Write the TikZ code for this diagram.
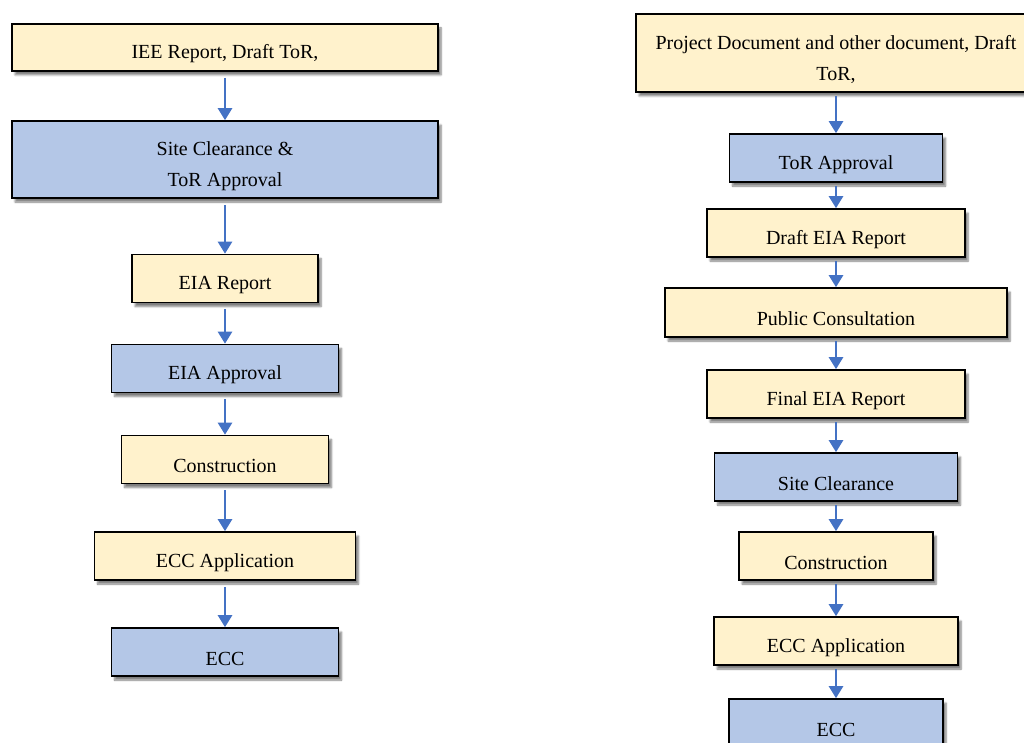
\documentclass[tikz,border=0pt]{standalone}
\usepackage{fontspec}
\setmainfont{Liberation Serif}
\usetikzlibrary{arrows.meta,shadows.blur}
\definecolor{ylw}{HTML}{FFF2CC}
\definecolor{blu}{HTML}{B4C7E7}
\definecolor{arr}{HTML}{4472C4}
\begin{document}
\begin{tikzpicture}[x=1pt,y=-1pt,
  box/.style={draw=black,line width=1.6pt,inner sep=0pt,
    blur shadow={shadow xshift=3pt,shadow yshift=-4pt,shadow blur steps=6,shadow opacity=50}},
  ybox/.style={box,fill=ylw},
  bbox/.style={box,fill=blu},
  txt/.style={align=center,inner sep=0pt,yshift=-6.5pt,font=\fontsize{20}{31}\selectfont},
  conn/.style={draw=arr,line width=2.5pt,-{Triangle[width=14pt,length=12pt]},shorten <=6pt}]
\useasboundingbox (0,0) rectangle (1024,743);
% left column
\node[ybox,minimum width=426pt,minimum height=47pt,label={[txt]center:IEE Report, Draft ToR,}] (L1) at (225,47.5) {};
\node[bbox,minimum width=426pt,minimum height=77pt,label={[txt]center:Site Clearance \&\\ToR Approval}] (L2) at (225,159.5) {};
\node[ybox,minimum width=186pt,minimum height=48pt,label={[txt]center:EIA Report}] (L3) at (225,278.5) {};
\node[bbox,minimum width=227pt,minimum height=48pt,label={[txt]center:EIA Approval}] (L4) at (225,368.5) {};
\node[ybox,minimum width=207pt,minimum height=48pt,label={[txt]center:Construction}] (L5) at (225,459.5) {};
\node[ybox,minimum width=261pt,minimum height=48pt,label={[txt]center:ECC Application}] (L6) at (225,556) {};
\node[bbox,minimum width=227pt,minimum height=48pt,label={[txt]center:ECC}] (L7) at (225,652) {};
% right column
\node[ybox,minimum width=400pt,minimum height=78pt,label={[txt]center:Project Document and other document, Draft\\ToR,}] (R1) at (836,53) {};
\node[bbox,minimum width=213pt,minimum height=48pt,label={[txt]center:ToR Approval}] (R2) at (836,158) {};
\node[ybox,minimum width=258pt,minimum height=48pt,label={[txt]center:Draft EIA Report}] (R3) at (836,233) {};
\node[ybox,minimum width=342pt,minimum height=49pt,label={[txt]center:Public Consultation}] (R4) at (836,312.5) {};
\node[ybox,minimum width=258pt,minimum height=48pt,label={[txt]center:Final EIA Report}] (R5) at (836,394) {};
\node[bbox,minimum width=243pt,minimum height=48pt,label={[txt]center:Site Clearance}] (R6) at (836,477) {};
\node[ybox,minimum width=194pt,minimum height=48pt,label={[txt]center:Construction}] (R7) at (836,556) {};
\node[ybox,minimum width=244pt,minimum height=48pt,label={[txt]center:ECC Application}] (R8) at (836,641) {};
\node[bbox,minimum width=214pt,minimum height=48pt,label={[txt]center:ECC}] (R9) at (836,723) {};
% connectors
\foreach \a/\b in {L1/L2,L2/L3,L3/L4,L4/L5,L5/L6,L6/L7}
  \draw[conn] (\a.south) -- (\b.north);
\foreach \a/\b in {R1/R2,R2/R3,R3/R4,R4/R5,R5/R6,R6/R7,R7/R8,R8/R9}
  \draw[conn,shorten <=3pt] (\a.south) -- (\b.north);
\end{tikzpicture}
\end{document}
